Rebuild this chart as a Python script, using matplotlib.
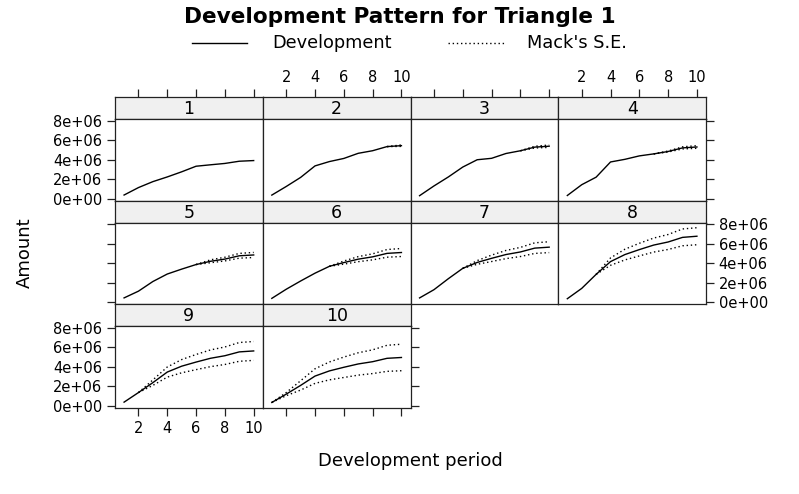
import numpy as np
import matplotlib
matplotlib.use('Agg')
import matplotlib.pyplot as plt

# Triangulo completo (observado + projetado) por ano de origem
origins = [str(i) for i in range(1, 11)]
periods = list(range(1, 11))
full_triangle = [
    [357848, 1124788, 1735330, 2218270, 2745596, 3319994, 3466336, 3606286, 3833515, 3901463],
    [352118, 1236139, 2170033, 3353322, 3799067, 4120063, 4647867, 4914039, 5339085, 5433719],
    [290507, 1292306, 2218525, 3235179, 3985995, 4132918, 4628910, 4909315, 5285148, 5378826],
    [310608, 1418858, 2195047, 3757447, 4029929, 4381982, 4588268, 4835458, 5205637, 5297906],
    [443160, 1136350, 2128333, 2897821, 3402672, 3873311, 4207459, 4434133, 4773589, 4858200],
    [396132, 1333217, 2180715, 2985752, 3691712, 4074999, 4426546, 4665023, 5022155, 5111171],
    [440832, 1288463, 2419861, 3483130, 4088678, 4513179, 4902528, 5166649, 5562182, 5660771],
    [359480, 1421128, 2864498, 4174756, 4900545, 5409337, 5875997, 6192562, 6666635, 6784799],
    [376686, 1363294, 2382128, 3471744, 4075313, 4498426, 4886502, 5149760, 5544000, 5642266],
    [344014, 1200818, 2098228, 3057984, 3589620, 3962307, 4304132, 4536015, 4883270, 4969825],
]
# Mack S.E. a partir da ultima diagonal observada ate o periodo 10
mack_se = [
    [0],
    [0, 75535],
    [0, 90000, 121699],
    [0, 50000, 110000, 133549],
    [0, 150000, 190000, 245000, 261406],
    [0, 160000, 260000, 310000, 395000, 411010],
    [0, 190000, 330000, 420000, 470000, 545000, 558317],
    [0, 380000, 550000, 650000, 720000, 770000, 865000, 875328],
    [0, 280000, 520000, 680000, 780000, 860000, 900000, 965000, 971258],
    [0, 160000, 480000, 750000, 920000, 1050000, 1150000, 1220000, 1340000, 1363155],
]
y_ticks = [0, 2e6, 4e6, 6e6, 8e6]
y_labels = ['0e+00', '2e+06', '4e+06', '6e+06', '8e+06']
x_ticks = [2, 4, 6, 8, 10]

W, H = 799, 494
fig = plt.figure(figsize=(W / 100, H / 100), dpi=100)

def box(x0, y0, x1, y1):
    return [x0 / W, 1 - y1 / H, (x1 - x0) / W, (y1 - y0) / H]

# limites com 7% de folga (padrao do lattice)
lo_all, hi_all = [], []
for i, row in enumerate(full_triangle):
    se = np.array(mack_se[i])
    tail = np.array(row[len(row) - len(se):])
    lo_all.append(min(min(row), (tail - se).min()))
    hi_all.append(max(max(row), (tail + se).max()))
ymin, ymax = min(lo_all), max(hi_all)
pad = 0.07 * (ymax - ymin)
ylim = (ymin - pad, ymax + pad)
xlim = (1 - 0.07 * 9, 10 + 0.07 * 9)

col_x = [115, 262.75, 410.5, 558.25, 706]
row_top = [97, 200.7, 304.3]
strip_h, panel_h = 22, 81.7
frame = '#222222'
tick_kw = dict(length=6, width=0.9, color=frame, labelsize=10.5, pad=3)

for i, row in enumerate(full_triangle):
    r, c = divmod(i, 4)
    x0, x1 = col_x[c], col_x[c + 1]
    ys = row_top[r]
    sax = fig.add_axes(box(x0, ys, x1, ys + strip_h))
    sax.set_facecolor('#f0f0f0')
    sax.set_xlim(xlim)
    sax.set_yticks([])
    sax.text(0.5, 0.45, origins[i], transform=sax.transAxes, ha='center', va='center', fontsize=12.5)
    for s in sax.spines.values():
        s.set_color(frame)
        s.set_linewidth(0.9)
    if r == 0:
        sax.set_xticks(x_ticks)
        sax.tick_params(axis='x', bottom=False, top=True, labelbottom=False,
                        labeltop=(c % 2 == 1), **tick_kw)
    else:
        sax.set_xticks([])

    ax = fig.add_axes(box(x0, ys + strip_h, x1, ys + strip_h + panel_h))
    ax.set_xlim(xlim)
    ax.set_ylim(ylim)
    ax.plot(periods, row, color='black', lw=1)
    se = np.array(mack_se[i])
    if len(se) > 1:
        px = periods[len(row) - len(se):]
        tail = np.array(row[len(row) - len(se):])
        ax.plot(px, tail + se, color='black', lw=1, ls=(0, (1, 2)))
        ax.plot(px, tail - se, color='black', lw=1, ls=(0, (1, 2)))
    for s in ax.spines.values():
        s.set_color(frame)
        s.set_linewidth(0.9)

    ax.set_xticks(x_ticks)
    ax.set_yticks(y_ticks)
    ax.set_yticklabels(y_labels)
    bottom = r == 2
    ax.tick_params(axis='x', bottom=bottom, top=False, labelbottom=(bottom and c == 0),
                   labeltop=False, **tick_kw)
    left = c == 0
    right = (c == 3) or (i == len(full_triangle) - 1)
    ax.tick_params(axis='y', left=left, right=right, labelleft=(left and r != 1),
                   labelright=(right and r == 1), **tick_kw)

fig.text(400 / W, 1 - 17 / H, 'Development Pattern for Triangle 1', ha='center', va='center',
         fontsize=15.6, fontweight='bold')

# legenda manual
lax = fig.add_axes(box(0, 30, W, 56))
lax.set_xlim(0, W)
lax.set_ylim(0, 1)
lax.axis('off')
lax.plot([192, 247], [0.5, 0.5], color='black', lw=1)
lax.text(272, 0.5, 'Development', va='center', ha='left', fontsize=12.8)
lax.plot([448, 505], [0.5, 0.5], color='black', lw=1, ls=(0, (1, 2)))
lax.text(527, 0.5, "Mack's S.E.", va='center', ha='left', fontsize=12.8)

fig.text(410 / W, 1 - 461 / H, 'Development period', ha='center', va='center', fontsize=13)
fig.text(25 / W, 1 - 253 / H, 'Amount', ha='center', va='center', rotation=90, fontsize=13)

fig.savefig('out.png', dpi=100)
